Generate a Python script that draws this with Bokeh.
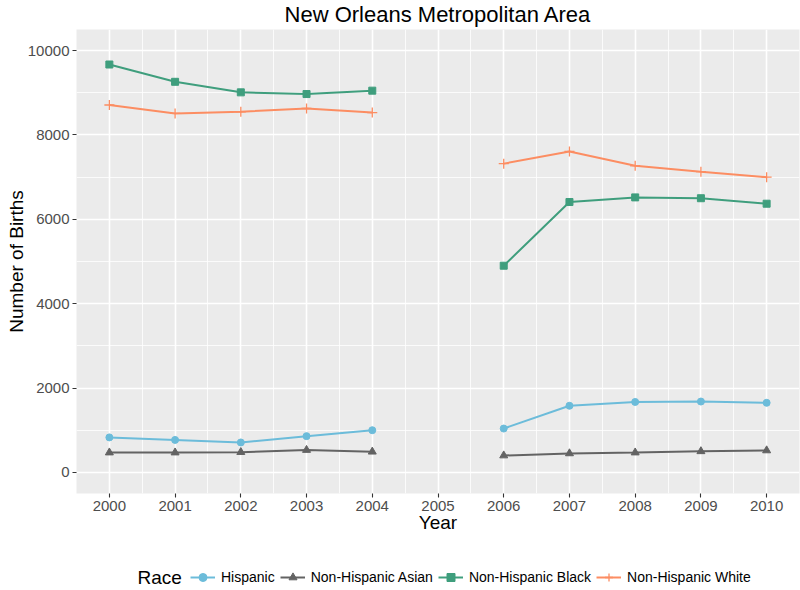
from bokeh.plotting import figure
from bokeh.models import Range1d, FixedTicker, Label, Legend, LegendItem
from bokeh.layouts import column
from bokeh.embed import file_html
from bokeh.resources import INLINE

nan = float("nan")
years = [2000, 2001, 2002, 2003, 2004, 2005, 2006, 2007, 2008, 2009, 2010]
hispanic = [830, 770, 710, 860, 1000, nan, 1040, 1580, 1670, 1680, 1650]
asian = [470, 470, 480, 530, 490, nan, 400, 450, 470, 500, 520]
black = [9670, 9260, 9010, 8970, 9050, nan, 4900, 6410, 6520, 6500, 6370]
white = [8710, 8510, 8550, 8630, 8530, nan, 7320, 7610, 7270, 7130, 7000]
series_names = ["Hispanic", "Non-Hispanic Asian", "Non-Hispanic Black", "Non-Hispanic White"]
y_ticks = [0, 2000, 4000, 6000, 8000, 10000]

FONT = "Liberation Sans"

p = figure(width=800, height=545, output_backend="svg", toolbar_location=None,
           x_range=Range1d(1999.5, 2010.5), y_range=Range1d(-500, 10500),
           min_border_left=76, min_border_right=1, min_border_top=28, min_border_bottom=52,
           title="New Orleans Metropolitan Area")
p.background_fill_color = "#EBEBEB"
p.border_fill_color = "white"
p.outline_line_color = None

p.title.align = "center"
p.title.vertical_align = "top"
p.title.text_font = FONT
p.title.text_font_size = "22px"
p.title.text_font_style = "normal"
p.title.text_color = "black"
p.title.standoff = 2

p.xaxis.ticker = FixedTicker(ticks=years, minor_ticks=[y - 0.5 for y in years] + [2010.5])
p.yaxis.ticker = FixedTicker(ticks=y_ticks, minor_ticks=[t + 1000 for t in y_ticks] + [-1000])

for g in (p.xgrid, p.ygrid):
    g.grid_line_color = "white"
    g.grid_line_width = 1.6
    g.minor_grid_line_color = "white"
    g.minor_grid_line_width = 0.8

for ax in (p.xaxis, p.yaxis):
    ax.axis_line_color = None
    ax.major_tick_line_color = "#333333"
    ax.major_tick_line_width = 1.1
    ax.major_tick_out = 4
    ax.major_tick_in = 0
    ax.minor_tick_out = 0
    ax.minor_tick_in = 0
    ax.major_label_text_font = FONT
    ax.major_label_text_font_size = "15px"
    ax.major_label_text_color = "#4D4D4D"
    ax.major_label_standoff = 3
    ax.axis_label_text_font = FONT
    ax.axis_label_text_font_size = "19px"
    ax.axis_label_text_font_style = "normal"
    ax.axis_label_text_color = "black"

p.xaxis.axis_label = "Year"
p.xaxis.axis_label_standoff = -2
p.yaxis.axis_label = "Number of Births"
p.yaxis.axis_label_standoff = -2

colors = ["#6CBCDA", "#636363", "#3F9E7D", "#FC8D62"]
markers = ["circle", "triangle", "square", "cross"]
sizes = [7, 8, 7, 10]
datas = [hispanic, asian, black, white]

# legend strip (its frame shows only the legend; the series lie outside its range)
q = figure(width=800, height=45, output_backend="svg", toolbar_location=None,
           x_range=Range1d(0, 800), y_range=Range1d(0, 45),
           x_axis_type=None, y_axis_type=None,
           min_border_left=0, min_border_right=0, min_border_top=0, min_border_bottom=0)
q.outline_line_color = None
q.background_fill_color = "white"
q.border_fill_color = "white"
q.xgrid.visible = False
q.ygrid.visible = False

off = 0
if "frame_align" in q.properties():
    q.frame_align = False
    p.frame_align = False
else:
    off = 76

items = []
for name, vals, c, m, s in zip(series_names, datas, colors, markers, sizes):
    for fig in (p, q):
        lr = fig.line(years, vals, line_color=c, line_width=2)
        if m == "cross":
            sr = fig.scatter(years, vals, marker=m, size=s, line_color=c, line_width=1.3)
        else:
            sr = fig.scatter(years, vals, marker=m, size=s, fill_color=c, line_color=c)
    items.append(LegendItem(label=name, renderers=[lr, sr]))

legend = Legend(items=items, orientation="horizontal", location=(190 - off, 3),
                glyph_width=25, glyph_height=20, label_height=20, label_standoff=6,
                spacing=5, padding=0, margin=0, border_line_color=None,
                background_fill_alpha=0, label_text_font=FONT,
                label_text_font_size="14px", label_text_color="black",
                label_text_baseline="middle")
q.add_layout(legend, "center")
q.add_layout(Label(x=137 - off, y=13, x_units="screen", y_units="screen",
                   text="Race", text_align="left", text_baseline="middle",
                   text_font=FONT, text_font_size="19px", text_color="black"))

layout = column(p, q, spacing=0)
open("out.html", "w").write(file_html(layout, INLINE))
